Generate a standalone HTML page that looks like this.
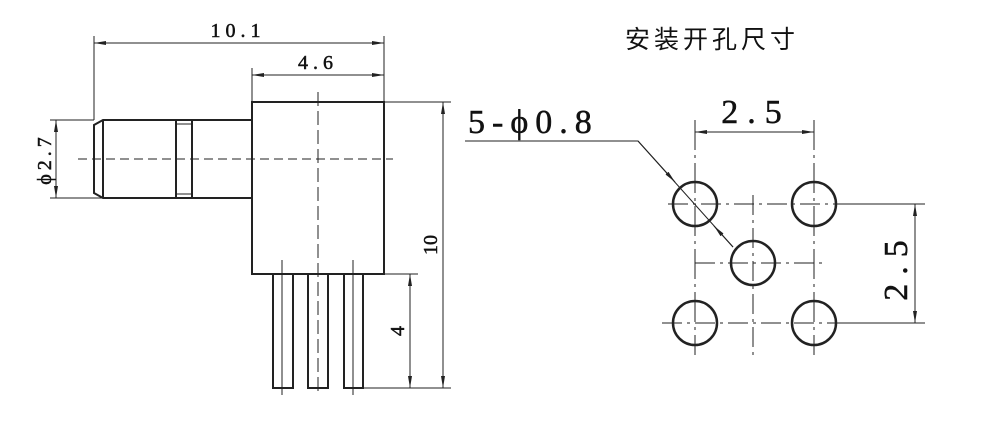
<!DOCTYPE html>
<html><head><meta charset="utf-8"><style>
html,body{margin:0;padding:0;background:#fff;width:1000px;height:423px;overflow:hidden}
text{font-family:"Liberation Serif","Noto Serif CJK SC",serif;fill:#111}
</style></head><body>
<svg width="1000" height="423" viewBox="0 0 1000 423" xmlns="http://www.w3.org/2000/svg">
<defs>
<marker id="a" viewBox="0 0 12 4" refX="12" refY="2" markerWidth="12" markerHeight="4" markerUnits="userSpaceOnUse" orient="auto-start-reverse"><path d="M0,0L12,2L0,4z" fill="#222"/></marker>
</defs>
<g stroke="#222" fill="none">
<g stroke-width="1">
<line x1="94" y1="36" x2="94" y2="120"/>
<line x1="384" y1="36" x2="384" y2="102"/>
<line x1="94" y1="43" x2="384" y2="43" marker-start="url(#a)" marker-end="url(#a)"/>
<line x1="252" y1="68" x2="252" y2="102"/>
<line x1="252" y1="75" x2="384" y2="75" marker-start="url(#a)" marker-end="url(#a)"/>
<line x1="50" y1="120" x2="94" y2="120"/>
<line x1="50" y1="198" x2="103" y2="198"/>
<line x1="56" y1="120" x2="56" y2="198" marker-start="url(#a)" marker-end="url(#a)"/>
<line x1="384" y1="102" x2="451" y2="102"/>
<line x1="363" y1="388" x2="451" y2="388"/>
<line x1="384" y1="274" x2="418" y2="274"/>
<line x1="443" y1="102" x2="443" y2="388" marker-start="url(#a)" marker-end="url(#a)"/>
<line x1="410" y1="274" x2="410" y2="388" marker-start="url(#a)" marker-end="url(#a)"/>
<line x1="78" y1="159" x2="393" y2="159" stroke-dasharray="9,5"/>
<line x1="318" y1="92" x2="318" y2="395" stroke-dasharray="14,5"/>
<line x1="282" y1="260" x2="282" y2="395"/>
<line x1="353" y1="260" x2="353" y2="395"/>
</g>
<g stroke-width="2">
<rect x="252" y="102" width="132" height="172"/>
<path d="M252,120H103L94,125V193L103,198H252"/>
<line x1="103" y1="120" x2="103" y2="198"/>
<line x1="176" y1="120" x2="176" y2="198"/>
<line x1="192" y1="120" x2="192" y2="198"/>
<line x1="176" y1="124" x2="192" y2="124" stroke-width="1"/>
<line x1="176" y1="194" x2="192" y2="194" stroke-width="1"/>
<path d="M273,274V388H293V274"/>
<path d="M308,274V388H328V274"/>
<path d="M344,274V388H363V274"/>
</g>
<g stroke-width="1">
<line x1="695" y1="120" x2="695" y2="355" stroke-dasharray="30,5,3,5"/>
<line x1="814" y1="120" x2="814" y2="355" stroke-dasharray="30,5,3,5"/>
<line x1="753" y1="195" x2="753" y2="355" stroke-dasharray="20,5,3,5"/>
<line x1="668" y1="204" x2="850" y2="204" stroke-dasharray="20,5,3,5"/>
<line x1="662" y1="323" x2="850" y2="323" stroke-dasharray="20,5,3,5"/>
<line x1="695" y1="263" x2="822" y2="263" stroke-dasharray="20,5,3,5"/>
<line x1="836" y1="204" x2="925" y2="204"/>
<line x1="836" y1="323" x2="925" y2="323"/>
<line x1="695" y1="132" x2="814" y2="132" marker-start="url(#a)" marker-end="url(#a)"/>
<line x1="915" y1="204" x2="915" y2="323" marker-start="url(#a)" marker-end="url(#a)"/>
<path d="M465,141H638L733,247"/>
<line x1="638" y1="141" x2="675" y2="182" marker-end="url(#a)"/>
<line x1="733" y1="247" x2="714" y2="226" marker-end="url(#a)"/>
</g>
<g stroke-width="2.5">
<circle cx="695" cy="204" r="22"/>
<circle cx="814" cy="204" r="22"/>
<circle cx="753" cy="263" r="22"/>
<circle cx="695" cy="323" r="22"/>
<circle cx="814" cy="323" r="22"/>
</g>
</g>
<g stroke="#111" stroke-width="0.5">
<text x="238" y="37" font-size="20" text-anchor="middle" letter-spacing="5">10.1</text>
<text x="318" y="69" font-size="20" text-anchor="middle" letter-spacing="5">4.6</text>
<text transform="translate(51,159) rotate(-90)" font-size="20" text-anchor="middle" letter-spacing="4">ϕ2.7</text>
<text transform="translate(437,245) rotate(-90)" font-size="20" text-anchor="middle">10</text>
<text transform="translate(404,331) rotate(-90)" font-size="20" text-anchor="middle">4</text>
<text x="468" y="133" font-size="34" letter-spacing="7">5-ϕ0.8</text>
<text x="756" y="123" font-size="34" text-anchor="middle" letter-spacing="9">2.5</text>
<text transform="translate(907,266) rotate(-90)" font-size="34" text-anchor="middle" letter-spacing="9">2.5</text>
</g>
<text x="625" y="48" font-size="25" letter-spacing="4" style="font-family:'Noto Sans CJK SC',sans-serif">安装开孔尺寸</text>
</svg>
</body></html>
